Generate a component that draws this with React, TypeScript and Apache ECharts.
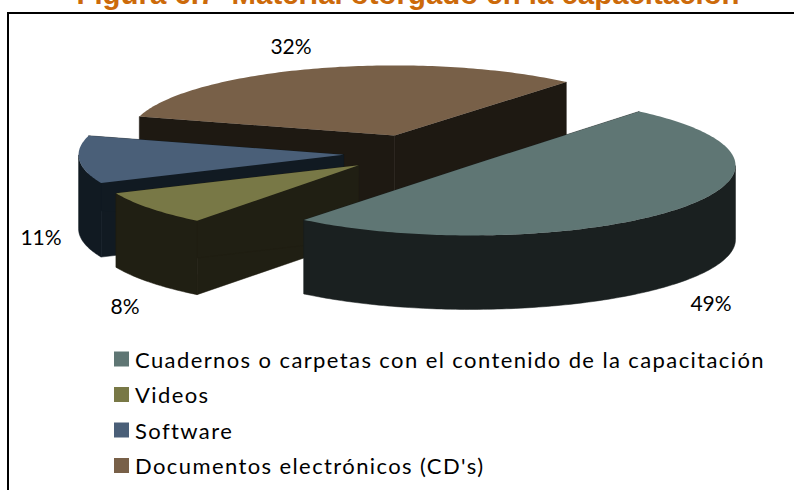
import React, { useEffect, useRef } from "react";
import * as echarts from "echarts";

const categories = [
  "Cuadernos o carpetas con el contenido de la capacitación",
  "Videos",
  "Software",
  "Documentos electrónicos (CD's)",
];
const shares = [49, 8, 11, 32];
const topColors = ["#5f7674", "#787846", "#4a5f78", "#786048"];
const wallColors = ["#1a2020", "#201f13", "#111a22", "#1e1912"];
const titleText = "Figura 6.7  Material otorgado en la capacitación";

// Pie geometry, in pixels of the 794x490 canvas.
const CENTER = { x: 415, y: 153.5 };
const RX = 265;
const RY = 70;
const DEPTH = 74;
const EXPLODE = 71.6;
const START_DEG = -49;
const labelAnchors = [
  { x: 711, y: 302 },
  { x: 125, y: 305 },
  { x: 41, y: 236 },
  { x: 291, y: 45 },
];

const rad = (d: number) => (d * Math.PI) / 180;

function sliceGeometry(index: number) {
  const total = shares.reduce((a, b) => a + b, 0);
  const before = shares.slice(0, index).reduce((a, b) => a + b, 0);
  const a0 = START_DEG + (before / total) * 360;
  const a1 = a0 + (shares[index] / total) * 360;
  const mid = rad((a0 + a1) / 2);
  const cx = CENTER.x + EXPLODE * Math.cos(mid);
  const cy = CENTER.y + (EXPLODE * RY * Math.sin(mid)) / RX;
  // Perspective skews the angles a little more the further right a slice sits.
  const lean = (cx - CENTER.x) / EXPLODE;
  const warp = (d: number) => d + (1.1 + 1.1 * lean) * Math.sin(rad(d));
  const rim: number[][] = [];
  const frontRim: number[][] = [];
  const steps = Math.max(8, Math.round(a1 - a0));
  for (let i = 0; i <= steps; i++) {
    const t = rad(warp(a0 + ((a1 - a0) * i) / steps));
    const p = [cx + RX * Math.cos(t), cy + RY * Math.sin(t)];
    rim.push(p);
    if (Math.sin(t) > -0.01) frontRim.push(p);
  }
  return { cx, cy, rim, frontRim };
}

const down = (p: number[]) => [p[0], p[1] + DEPTH];

function renderSlice(index: number) {
  const { cx, cy, rim, frontRim } = sliceGeometry(index);
  const wall = { fill: wallColors[index], stroke: wallColors[index], lineWidth: 0.5 };
  const apex = [cx, cy];
  const quad = (a: number[], b: number[]) => ({
    type: "polygon",
    shape: { points: [a, b, down(b), down(a)] },
    style: wall,
  });
  const rimWall =
    frontRim.length > 1
      ? [
          {
            type: "polygon",
            shape: { points: [...frontRim, ...frontRim.map(down).reverse()] },
            style: wall,
          },
        ]
      : [];
  return {
    type: "group",
    children: [
      quad(apex, rim[0]),
      quad(apex, rim[rim.length - 1]),
      ...rimWall,
      {
        type: "polygon",
        shape: { points: [apex, ...rim] },
        style: { fill: topColors[index] },
      },
      {
        type: "text",
        style: {
          x: labelAnchors[index].x,
          y: labelAnchors[index].y,
          text: `${shares[index]}%`,
          align: "center",
          verticalAlign: "middle",
          fill: "#000",
          font: "21px Lato, sans-serif",
        },
      },
    ],
  };
}

export default function App() {
  const ref = useRef<HTMLDivElement>(null);
  useEffect(() => {
    document.body.style.margin = "0";
    const chart = echarts.init(ref.current!, undefined, { renderer: "svg" });
    chart.setOption({
      animation: false,
      backgroundColor: "#fff",
      title: {
        text: titleText,
        left: 403,
        textAlign: "center",
        top: -26,
        textStyle: {
          fontFamily: "Liberation Sans",
          fontWeight: "bold",
          fontSize: 29.4,
          color: "#cc6a0a",
        },
      },
      legend: {
        orient: "vertical",
        left: 114,
        top: 348,
        padding: 0,
        itemWidth: 15,
        itemHeight: 15,
        itemGap: 13.5,
        icon: "rect",
        data: categories,
        textStyle: {
          fontFamily: "Lato",
          fontSize: 22,
          color: "#000",
          padding: [0, 0, 0, 1],
        },
      },
      graphic: [
        {
          type: "polyline",
          shape: { points: [[8, 490], [8, 13], [794, 13]] },
          style: { stroke: "#000", lineWidth: 2, fill: "none" },
        },
      ],
      series: categories.map((name, i) => ({
        type: "custom",
        name,
        coordinateSystem: "none",
        z: 5 - i,
        itemStyle: { color: topColors[i] },
        data: [shares[i]],
        renderItem: () => renderSlice(i),
      })),
    });
    return () => chart.dispose();
  }, []);
  return (
    <div ref={ref} style={{ width: 794, height: 490 }}>
      <style>{'text[style*="22px"]{letter-spacing:1.4px}'}</style>
    </div>
  );
}
